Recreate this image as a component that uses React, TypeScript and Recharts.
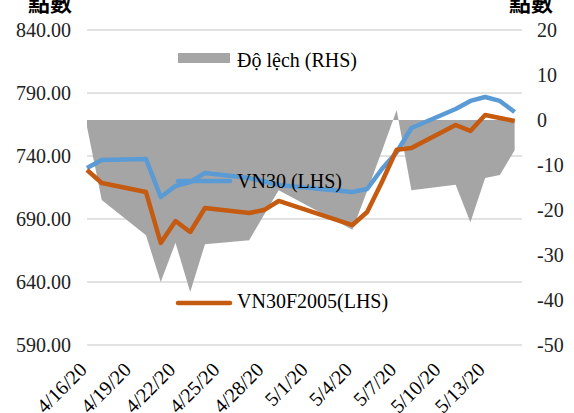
import React from "react";
import {
  ComposedChart,
  Area,
  Line,
  XAxis,
  YAxis,
  CartesianGrid,
  Legend,
} from "recharts";

// trading days shown in the chart
const dates = [
  "4/16/20", "4/17/20", "4/20/20", "4/21/20", "4/22/20", "4/23/20", "4/24/20",
  "4/27/20", "4/28/20", "4/29/20", "5/4/20", "5/5/20", "5/6/20", "5/7/20",
  "5/8/20", "5/11/20", "5/12/20", "5/13/20", "5/14/20", "5/15/20",
];
const vn30 = [
  730.5, 736.8, 737.6, 707.5, 716.2, 719.4, 726.5,
  722.5, 720.0, 717.0, 711.4, 713.8, 729.7, 743.0,
  762.2, 777.3, 783.7, 786.8, 783.7, 774.9,
];
const vn30f2005 = [
  728.9, 718.6, 711.4, 671.0, 688.4, 679.7, 698.7,
  694.8, 697.1, 704.3, 685.2, 695.6, 719.4, 745.0,
  746.3, 764.6, 759.9, 772.5, 770.2, 767.8,
];
const spread = [
  -1.5, -17.8, -25.6, -36.0, -27.3, -38.2, -27.6,
  -26.7, -21.1, -15.6, -24.4, -15.8, -6.9, 2.2,
  -15.6, -14.4, -22.7, -12.9, -12.2, -6.7,
];
const xTickLabels = [
  "4/16/20", "4/19/20", "4/22/20", "4/25/20", "4/28/20",
  "5/1/20", "5/4/20", "5/7/20", "5/10/20", "5/13/20",
];
const leftTicks = [590, 640, 690, 740, 790, 840];
const rightTicks = [-50, -40, -30, -20, -10, 0, 10, 20];

const toDay = (s: string) => {
  const [m, d, y] = s.split("/").map(Number);
  return Date.UTC(2000 + y, m - 1, d) / 86400000;
};
const base = toDay(dates[0]);
const dayOf = (s: string) => toDay(s) - base;
const dayLabel = (d: number) => {
  const t = new Date((base + d) * 86400000);
  return `${t.getUTCMonth() + 1}/${t.getUTCDate()}/${String(t.getUTCFullYear()).slice(2)}`;
};

const data = dates.map((d, i) => ({
  day: dayOf(d),
  vn30: vn30[i],
  vn30f: vn30f2005[i],
  spread: spread[i],
}));

const FONT = '"Liberation Serif", "Times New Roman", serif';
const CJK = '"Noto Sans CJK TC", "Noto Sans CJK SC", sans-serif';
const GRAY = "#a5a5a5";
const BLUE = "#5b9bd5";
const ORANGE = "#c55a11";

const DateTick = (props: any) => {
  const { x, y, payload } = props;
  const px = x + 1;
  const py = y + 24;
  return (
    <text
      x={px}
      y={py}
      transform={`rotate(-45, ${px}, ${py})`}
      textAnchor="end"
      fontFamily={FONT}
      fontSize={20}
      fill="#000"
    >
      {dayLabel(payload.value)}
    </text>
  );
};

const AxisTitle = (offsetX: number) => (props: any) => {
  const vb = props.viewBox;
  return (
    <text
      x={vb.x + offsetX}
      y={vb.y - 19}
      textAnchor="middle"
      fontFamily={CJK}
      fontWeight="bold"
      fontSize={22}
      fill="#000"
    >
      點數
    </text>
  );
};

// legend entries sit inside the plot like the original
const legendSpots: Record<string, { y: number; ty: number }> = {
  spread: { y: 58, ty: 67 },
  vn30: { y: 181, ty: 188 },
  vn30f: { y: 303, ty: 308 },
};

const InlineLegend = (props: any) => {
  const payload = props.payload || [];
  return (
    <svg width={574} height={413} style={{ pointerEvents: "none" }}>
      {payload.map((p: any) => {
        const spot = legendSpots[p.dataKey];
        if (!spot) return null;
        return (
          <g key={p.dataKey}>
            {p.dataKey === "spread" ? (
              <rect x={178} y={spot.y - 5} width={52} height={10} fill={GRAY} />
            ) : (
              <line
                x1={178}
                x2={230}
                y1={spot.y}
                y2={spot.y}
                stroke={p.color}
                strokeWidth={4.5}
                strokeLinecap="round"
              />
            )}
            <text x={237} y={spot.ty} fontFamily={FONT} fontSize={20} fill="#000">
              {p.value}
            </text>
          </g>
        );
      })}
    </svg>
  );
};

export default function App() {
  return (
    <div
      style={{
        position: "absolute",
        left: 0,
        top: 0,
        width: 574,
        height: 413,
        background: "#fff",
        overflow: "hidden",
      }}
    >
      <ComposedChart
        width={574}
        height={413}
        data={data}
        margin={{ top: 30, right: 0, bottom: 0, left: 0 }}
      >
        <CartesianGrid
          yAxisId="left"
          vertical={false}
          stroke="#d9d9d9"
          strokeWidth={1.5}
        />
        <XAxis
          dataKey="day"
          type="number"
          domain={[0, 29.5]}
          ticks={xTickLabels.map(dayOf)}
          height={68}
          axisLine={false}
          tickLine={false}
          tickSize={0}
          tick={<DateTick />}
          interval={0}
        />
        <YAxis
          yAxisId="left"
          orientation="left"
          domain={[590, 840]}
          ticks={leftTicks}
          width={87}
          axisLine={false}
          tickLine={false}
          tickSize={0}
          tickMargin={16}
          tickFormatter={(v: number) => v.toFixed(2)}
          tick={{ fontFamily: FONT, fontSize: 20, fill: "#222" }}
          label={AxisTitle(50)}
        />
        <YAxis
          yAxisId="right"
          orientation="right"
          domain={[-50, 20]}
          ticks={rightTicks}
          width={52}
          axisLine={false}
          tickLine={false}
          tickSize={0}
          tickMargin={15}
          tick={{ fontFamily: FONT, fontSize: 20, fill: "#222", textAnchor: "start" }}
          label={AxisTitle(9)}
        />
        <Area
          yAxisId="right"
          dataKey="spread"
          name="Độ lệch (RHS)"
          type="linear"
          fill={GRAY}
          fillOpacity={1}
          stroke="none"
          baseValue={0}
          isAnimationActive={false}
        />
        <Line
          yAxisId="left"
          dataKey="vn30"
          name="VN30 (LHS)"
          type="linear"
          stroke={BLUE}
          strokeWidth={4.5}
          strokeLinejoin="round"
          dot={false}
          isAnimationActive={false}
        />
        <Line
          yAxisId="left"
          dataKey="vn30f"
          name="VN30F2005(LHS)"
          type="linear"
          stroke={ORANGE}
          strokeWidth={4.5}
          strokeLinejoin="round"
          dot={false}
          isAnimationActive={false}
        />
        <Legend
          layout="horizontal"
          verticalAlign="middle"
          align="center"
          content={<InlineLegend />}
          wrapperStyle={{ left: 0, top: 0, width: 574, height: 413 }}
        />
      </ComposedChart>
    </div>
  );
}
